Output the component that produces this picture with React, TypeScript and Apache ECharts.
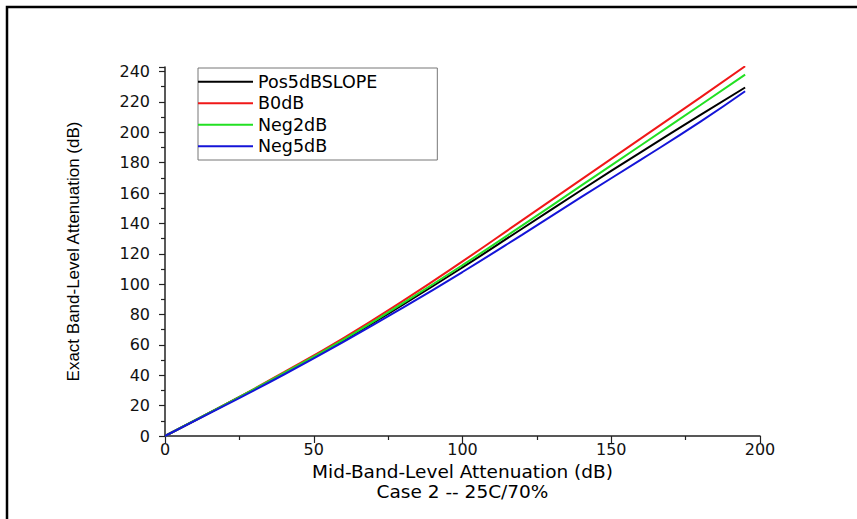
import React, { useEffect, useRef } from 'react';
import * as echarts from 'echarts';

const xValues = [0, 20, 40, 60, 80, 100, 120, 140, 160, 180, 195];
const pos5dBSlope = [0, 20.5, 41, 63, 86.5, 111, 136.5, 162, 187, 211.5, 229.5];
const b0dB = [0, 20.5, 42, 64.5, 89, 115, 142, 169, 196, 223, 243.5];
const neg2dB = [0, 20.5, 41.5, 63.5, 87.5, 112.5, 138.5, 165, 191.5, 218, 238];
const neg5dB = [0, 20, 40.5, 62, 84.5, 108, 132.5, 157.5, 182, 207, 227];

const seriesNames = ['Pos5dBSLOPE', 'B0dB', 'Neg2dB', 'Neg5dB'];
const seriesValues = [pos5dBSlope, b0dB, neg2dB, neg5dB];
const seriesColors = ['#000000', '#f01818', '#22e022', '#1414d8'];

const xTitle = 'Mid-Band-Level Attenuation (dB)';
const caption = 'Case 2 -- 25C/70%';
const yTitle = 'Exact Band-Level Attenuation (dB)';

export default function App() {
  const ref = useRef<HTMLDivElement>(null);

  useEffect(() => {
    if (!ref.current) return;
    const chart = echarts.init(ref.current, null, { renderer: 'svg' });
    const tickFont = { fontFamily: 'DejaVu Sans', fontSize: 16, color: '#111' };
    const option = {
      animation: false,
      backgroundColor: '#ffffff',
      grid: { left: 165, right: 97, top: 67, bottom: 83, containLabel: false },
      legend: {
        orient: 'vertical',
        left: 198,
        top: 68,
        padding: [3, 60, 3, 0],
        itemWidth: 55,
        itemHeight: 2,
        itemGap: 0,
        icon: 'rect',
        borderColor: '#777',
        borderWidth: 1,
        textStyle: { fontFamily: 'DejaVu Sans', fontSize: 17.5, color: '#000', lineHeight: 21.5 },
        data: seriesNames,
      },
      xAxis: {
        type: 'value',
        min: 0,
        max: 200,
        interval: 50,
        name: xTitle + '\n' + caption,
        nameLocation: 'middle',
        nameGap: 10,
        nameTextStyle: { fontFamily: 'DejaVu Sans', fontSize: 18.5, lineHeight: 19.5, color: '#000' },
        axisLine: { lineStyle: { color: '#222', width: 1.5 } },
        axisTick: { length: 7, lineStyle: { color: '#222', width: 1.2 } },
        minorTick: { show: true, splitNumber: 2, length: 4, lineStyle: { color: '#222', width: 1.2 } },
        axisLabel: { ...tickFont, margin: 5 },
        splitLine: { show: false },
      },
      yAxis: {
        type: 'value',
        min: 0,
        max: 243,
        interval: 20,
        name: yTitle,
        nameLocation: 'middle',
        nameGap: 83,
        nameTextStyle: { fontFamily: 'Liberation Sans', fontSize: 17, color: '#000' },
        axisLine: { show: true, lineStyle: { color: '#222', width: 1.5 } },
        axisTick: { show: true, length: 6, lineStyle: { color: '#222', width: 1.2 } },
        minorTick: { show: true, splitNumber: 2, length: 4, lineStyle: { color: '#222', width: 1.2 } },
        axisLabel: { ...tickFont, margin: 15, showMaxLabel: false },
        splitLine: { show: false },
      },
      graphic: [
        {
          type: 'rect',
          silent: true,
          shape: { x: 7, y: 7, width: 900, height: 600 },
          style: { fill: 'none', stroke: '#000', lineWidth: 2.5 },
        },
      ],
      series: seriesNames.map((name, i) => ({
        name,
        type: 'line',
        data: xValues.map((x, j) => [x, seriesValues[i][j]]),
        smooth: 0.5,
        symbol: 'none',
        clip: true,
        lineStyle: { color: seriesColors[i], width: 2 },
        itemStyle: { color: seriesColors[i] },
      })),
    };
    chart.setOption(option as any);
    return () => chart.dispose();
  }, []);

  return (
    <div
      ref={ref}
      style={{ position: 'absolute', left: 0, top: 0, width: 857, height: 519, background: '#fff' }}
    />
  );
}
